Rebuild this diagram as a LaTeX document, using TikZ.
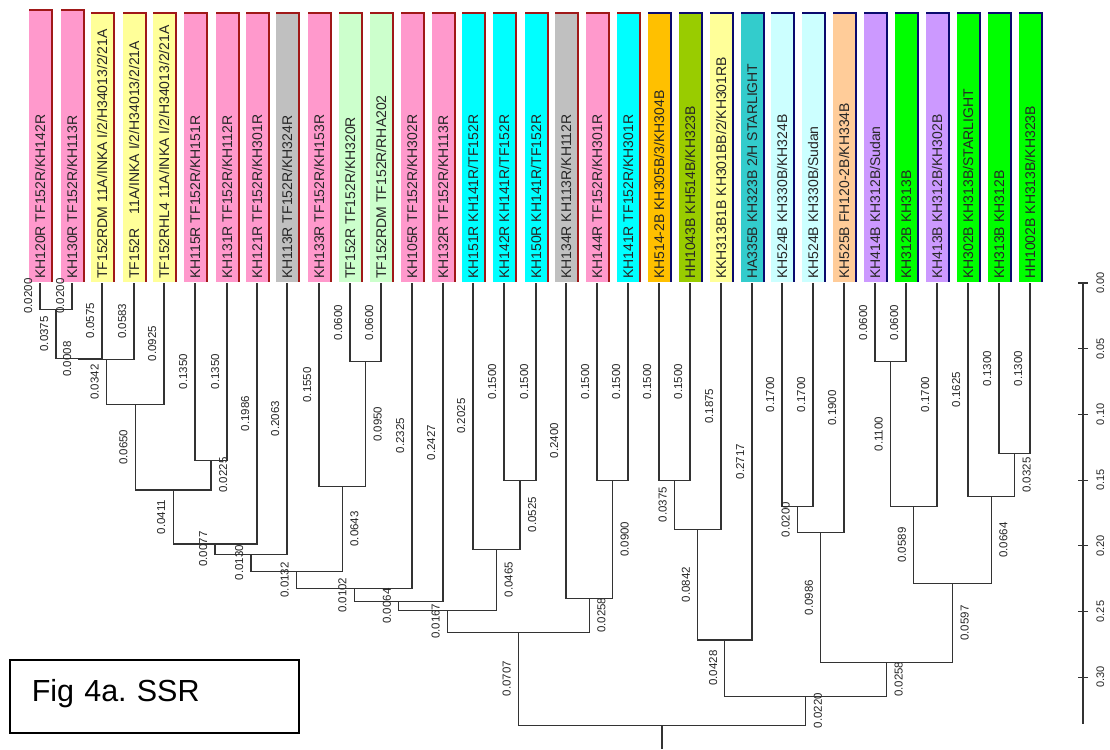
\documentclass[tikz,border=0pt]{standalone}
\usepackage{fontspec}
\setmainfont{Liberation Sans}
\frenchspacing
\definecolor{pinkc}{HTML}{FF99CC}
\definecolor{yelc}{HTML}{FFFF99}
\definecolor{grayc}{HTML}{C0C0C0}
\definecolor{lgreenc}{HTML}{CCFFCC}
\definecolor{cyanc}{HTML}{00FFFF}
\definecolor{orangec}{HTML}{FFC000}
\definecolor{olivec}{HTML}{99CC00}
\definecolor{tealc}{HTML}{33CCCC}
\definecolor{pcyanc}{HTML}{CCFFFF}
\definecolor{peachc}{HTML}{FFCC99}
\definecolor{lavc}{HTML}{CC99FF}
\definecolor{greenc}{HTML}{00FF00}
\definecolor{redb}{HTML}{A01818}
\definecolor{navyb}{HTML}{0A0A6E}
\tikzset{
 dline/.style={draw=black!80, line width=1.1pt},
 blab/.style={font=\fontsize{11.5}{12}\selectfont, text=black!85, rotate=90, inner sep=0pt, text height=8.2pt, text depth=0pt, anchor=center},
 axlab/.style={blab, font=\fontsize{11}{12}\selectfont},
 leaftext/.style={font=\fontsize{14}{16}\selectfont, text=black!85, rotate=90, anchor=west, inner sep=0pt, text height=10pt, text depth=0pt},
 stripborder/.style={line width=2pt},
 figbox/.style={draw=black, line width=1.6pt, anchor=north west, font=\fontsize{30.5}{36}\selectfont, text width=245pt, inner xsep=22pt, inner ysep=0pt, minimum height=73pt, text height=22pt, text depth=12pt, align=left},
}
\newcommand\mkleaf[6]{%
  \fill[#3] (#2-11,#5) rectangle (#2+11,282);
  \draw[stripborder,#4] (#2-11,#5) -- (#2+12,#5) -- (#2+12,282);
  \node[leaftext] (t#1) at (#2,279) {#6};
  \coordinate (l#1) at (#2,283);
}
\newcommand\edgeL[3]{\draw[dline] (#1) |- node[xshift=-12pt,blab,pos=.25]{#3} (#2);}
\newcommand\edgeR[3]{\draw[dline] (#1) |- node[xshift=12pt,blab,pos=.25]{#3} (#2);}
\begin{document}
\begin{tikzpicture}[x=1pt,y=-1pt]
\useasboundingbox (0,0) rectangle (1110,749);
\fill[white] (0,0) rectangle (1110,749);
% leaves
\mkleaf{1}{40}{pinkc}{redb}{10}{KH120R TF152R/KH142R}
\mkleaf{2}{72}{pinkc}{redb}{10}{KH130R TF152R/KH113R}
\mkleaf{3}{102}{yelc}{redb}{13}{TF152RDM 11A/INKA I/2/H34013/2/21A}
\mkleaf{4}{134}{yelc}{redb}{13}{TF152R\hspace{1em}11A/INKA I/2/H34013/2/21A}
\mkleaf{5}{164}{yelc}{redb}{13}{TF152RHL4 11A/INKA I/2/H34013/2/21A}
\mkleaf{6}{195}{pinkc}{redb}{13}{KH115R TF152R/KH151R}
\mkleaf{7}{227}{pinkc}{redb}{13}{KH131R TF152R/KH112R}
\mkleaf{8}{257}{pinkc}{redb}{13}{KH121R TF152R/KH301R}
\mkleaf{9}{287}{grayc}{redb}{13}{KH113R TF152R/KH324R}
\mkleaf{10}{319}{pinkc}{redb}{13}{KH133R TF152R/KH153R}
\mkleaf{11}{350}{lgreenc}{redb}{13}{TF152R TF152R/KH320R}
\mkleaf{12}{381}{lgreenc}{redb}{13}{TF152RDM TF152R/RHA202}
\mkleaf{13}{412}{pinkc}{redb}{13}{KH105R TF152R/KH302R}
\mkleaf{14}{443}{pinkc}{redb}{13}{KH132R TF152R/KH113R}
\mkleaf{15}{473}{cyanc}{redb}{13}{KH151R KH141R/TF152R}
\mkleaf{16}{504}{cyanc}{redb}{13}{KH142R KH141R/TF152R}
\mkleaf{17}{536}{cyanc}{redb}{13}{KH150R KH141R/TF152R}
\mkleaf{18}{566}{grayc}{redb}{13}{KH134R KH113R/KH112R}
\mkleaf{19}{597}{pinkc}{redb}{13}{KH144R TF152R/KH301R}
\mkleaf{20}{628}{cyanc}{redb}{13}{KH141R TF152R/KH301R}
\mkleaf{21}{659}{orangec}{navyb}{13}{KH514-2B KH305B/3/KH304B}
\mkleaf{22}{690}{olivec}{navyb}{13}{HH1043B KH514B/KH323B}
\mkleaf{23}{721}{yelc}{navyb}{13}{KKH313B1B KH301BB/2/KH301RB}
\mkleaf{24}{752}{tealc}{navyb}{13}{HA335B KH323B 2/H STARLIGHT}
\mkleaf{25}{782}{pcyanc}{navyb}{13}{KH524B KH330B/KH324B}
\mkleaf{26}{813}{pcyanc}{navyb}{13}{KH524B KH330B/Sudan}
\mkleaf{27}{844}{peachc}{navyb}{13}{KH525B FH120-2B/KH334B}
\mkleaf{28}{875}{lavc}{navyb}{13}{KH414B KH312B/Sudan}
\mkleaf{29}{906}{greenc}{navyb}{13}{KH312B KH313B}
\mkleaf{30}{937}{lavc}{navyb}{13}{KH413B KH312B/KH302B}
\mkleaf{31}{968}{greenc}{navyb}{13}{KH302B KH313B/STARLIGHT}
\mkleaf{32}{999}{greenc}{navyb}{13}{KH313B KH312B}
\mkleaf{33}{1030}{greenc}{navyb}{13}{HH1002B KH313B/KH323B}
% internal nodes
\coordinate (nA) at (56,{283+1314*0.0200});
\coordinate (nB) at (79,{283+1314*0.0575});
\coordinate (nC) at (106.5,{283+1314*0.0583});
\coordinate (nD) at (135.25,{283+1314*0.0925});
\coordinate (nF) at (211,{283+1314*0.1350});
\coordinate (nE) at (173.1,{283+1314*0.1575});
\coordinate (nG) at (215,{283+1314*0.1986});
\coordinate (nH) at (251,{283+1314*0.2063});
\coordinate (nJ) at (365.5,{283+1314*0.0600});
\coordinate (nK) at (342.25,{283+1314*0.1550});
\coordinate (nI) at (296.6,{283+1314*0.2193});
\coordinate (nL) at (354.3,{283+1314*0.2325});
\coordinate (nM) at (398.7,{283+1314*0.2427});
\coordinate (nO) at (520,{283+1314*0.1500});
\coordinate (nP) at (496.5,{283+1314*0.2025});
\coordinate (nN) at (447.6,{283+1314*0.2491});
\coordinate (nR) at (612.5,{283+1314*0.1500});
\coordinate (nS) at (589.25,{283+1314*0.2400});
\coordinate (nQ) at (518.4,{283+1314*0.2658});
\coordinate (nT) at (674.5,{283+1314*0.1500});
\coordinate (nU) at (697.75,{283+1314*0.1875});
\coordinate (nV) at (724.9,{283+1314*0.2717});
\coordinate (nX) at (797.5,{283+1314*0.1700});
\coordinate (nY) at (820.75,{283+1314*0.1900});
\coordinate (nAA) at (890.5,{283+1314*0.0600});
\coordinate (nBB) at (913.75,{283+1314*0.1700});
\coordinate (nDD) at (1014.5,{283+1314*0.1300});
\coordinate (nEE) at (991.25,{283+1314*0.1625});
\coordinate (nCC) at (952.5,{283+1314*0.2289});
\coordinate (nZ) at (886.6,{283+1314*0.2886});
\coordinate (nW) at (805.7,{283+1314*0.3145});
\coordinate (nRoot) at (662,{283+1314*0.3365});
\coordinate (rootend) at (662,749);
% edges
\edgeL{l1}{nA}{0.0200} \edgeL{l2}{nA}{0.0200}
\edgeL{nA}{nB}{0.0375} \edgeL{l3}{nB}{0.0575}
\edgeL{nB}{nC}{0.0008} \edgeL{l4}{nC}{0.0583}
\edgeL{nC}{nD}{0.0342} \edgeL{l5}{nD}{0.0925}
\edgeL{nD}{nE}{0.0650} \edgeR{nF}{nE}{0.0225}
\edgeL{l6}{nF}{0.1350} \edgeL{l7}{nF}{0.1350}
\edgeL{nE}{nG}{0.0411} \edgeL{l8}{nG}{0.1986}
\edgeL{nG}{nH}{0.0077} \edgeL{l9}{nH}{0.2063}
\edgeL{nH}{nI}{0.0130} \edgeR{nK}{nI}{0.0643}
\edgeL{l10}{nK}{0.1550} \edgeR{nJ}{nK}{0.0950}
\edgeL{l11}{nJ}{0.0600} \edgeL{l12}{nJ}{0.0600}
\edgeL{nI}{nL}{0.0132} \edgeL{l13}{nL}{0.2325}
\edgeL{nL}{nM}{0.0102} \edgeL{l14}{nM}{0.2427}
\edgeL{nM}{nN}{0.0064} \edgeR{nP}{nN}{0.0465}
\edgeL{l15}{nP}{0.2025} \edgeR{nO}{nP}{0.0525}
\edgeL{l16}{nO}{0.1500} \edgeL{l17}{nO}{0.1500}
\edgeL{nN}{nQ}{0.0167} \edgeR{nS}{nQ}{0.0258}
\edgeL{l18}{nS}{0.2400} \edgeR{nR}{nS}{0.0900}
\edgeL{l19}{nR}{0.1500} \edgeL{l20}{nR}{0.1500}
\edgeL{nQ}{nRoot}{0.0707} \edgeR{nW}{nRoot}{0.0220}
\edgeL{l21}{nT}{0.1500} \edgeL{l22}{nT}{0.1500}
\edgeL{nT}{nU}{0.0375} \edgeL{l23}{nU}{0.1875}
\edgeL{nU}{nV}{0.0842} \edgeL{l24}{nV}{0.2717}
\edgeL{nV}{nW}{0.0428} \edgeR{nZ}{nW}{0.0258}
\edgeL{l25}{nX}{0.1700} \edgeL{l26}{nX}{0.1700}
\edgeL{nX}{nY}{0.0200} \edgeL{l27}{nY}{0.1900}
\edgeL{nY}{nZ}{0.0986} \edgeR{nCC}{nZ}{0.0597}
\edgeL{l28}{nAA}{0.0600} \edgeL{l29}{nAA}{0.0600}
\edgeL{nAA}{nBB}{0.1100} \edgeL{l30}{nBB}{0.1700}
\edgeL{nBB}{nCC}{0.0589} \edgeR{nEE}{nCC}{0.0664}
\edgeL{l31}{nEE}{0.1625} \edgeR{nDD}{nEE}{0.0325}
\edgeL{l32}{nDD}{0.1300} \edgeL{l33}{nDD}{0.1300}
\draw[dline] (nRoot) -- (rootend);
% scale axis
\coordinate (ax0) at (1083,283);
\coordinate (ax1) at (1083,724);
\draw[dline] (ax0) -- (ax1);
\foreach \k/\lab in {0/0.00,1/0.05,2/0.10,3/0.15,4/0.20,5/0.25,6/0.30} {
  \coordinate (tk\k) at (1083,{283+65.7*\k});
  \draw[dline] ([xshift=-5pt]tk\k) -- ([xshift=5pt]tk\k);
  \node[axlab] (al\k) at ([xshift=17pt]tk\k) {\lab};
}
% caption box
\node[figbox] (fig) at (9,659) {Fig 4a. SSR};
\end{tikzpicture}
\end{document}
